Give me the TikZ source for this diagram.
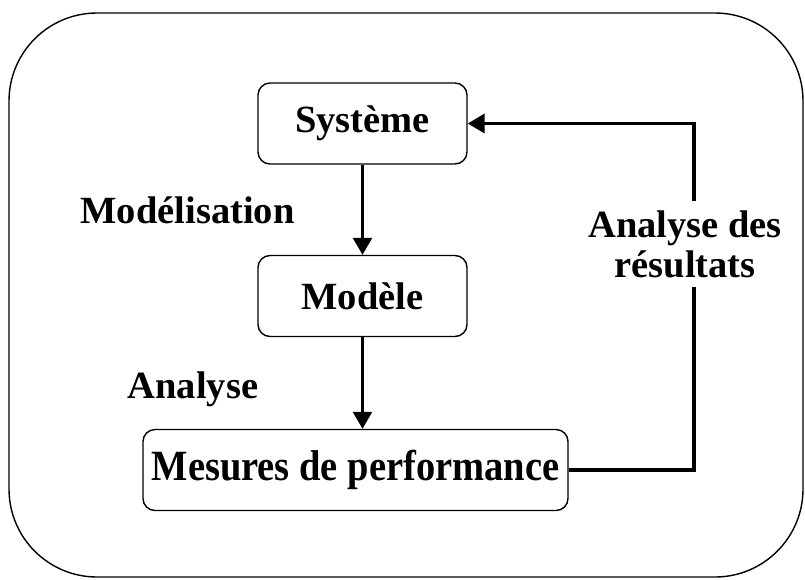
\documentclass[tikz,border=0pt]{standalone}
\usepackage{fontspec}
\setmainfont{Liberation Serif}
\usetikzlibrary{arrows.meta}

\begin{document}
\begin{tikzpicture}[x=1pt, y=-1pt,
  txt/.style={font=\bfseries\fontsize{38.5}{40}\selectfont},
  box/.style={txt, draw, line width=1.4pt, rounded corners=12pt, inner sep=0pt, minimum height=81pt},
  flow/.style={line width=2.6pt, -{Triangle[length=17pt,width=19pt]}},
  back/.style={line width=3.8pt, -{Triangle[length=17pt,width=19pt]}}]

\useasboundingbox (0,0) rectangle (805,579);
\draw[line width=1.4pt, rounded corners=88pt] (9,13) rectangle (803,577);

\node[box, minimum width=209pt] (sys) at (362.5,123.5) {Système};
\node[box, minimum width=209pt] (mod) at (362.5,296) {Modèle};
\node[box, minimum width=425pt] (mes) at (355.5,470) {\scalebox{1}[1.12]{Mesures de performance}};

\node[txt, anchor=base] (modl) at (187.5,223) {Modélisation};
\node[txt, anchor=base] (anl) at (193,398) {Analyse};

\draw[flow] (sys) -- (mod);
\draw[flow] (mod.south) -- (mod.south |- mes.north);

\coordinate (fb) at (694,123.5);
\draw[back] (mes.east) -| (fb) -- (sys.east);

\node[txt, fill=white, align=center, inner xsep=2pt, inner ysep=9pt] (res) at (685,244) {Analyse des\\résultats};

\end{tikzpicture}
\end{document}
